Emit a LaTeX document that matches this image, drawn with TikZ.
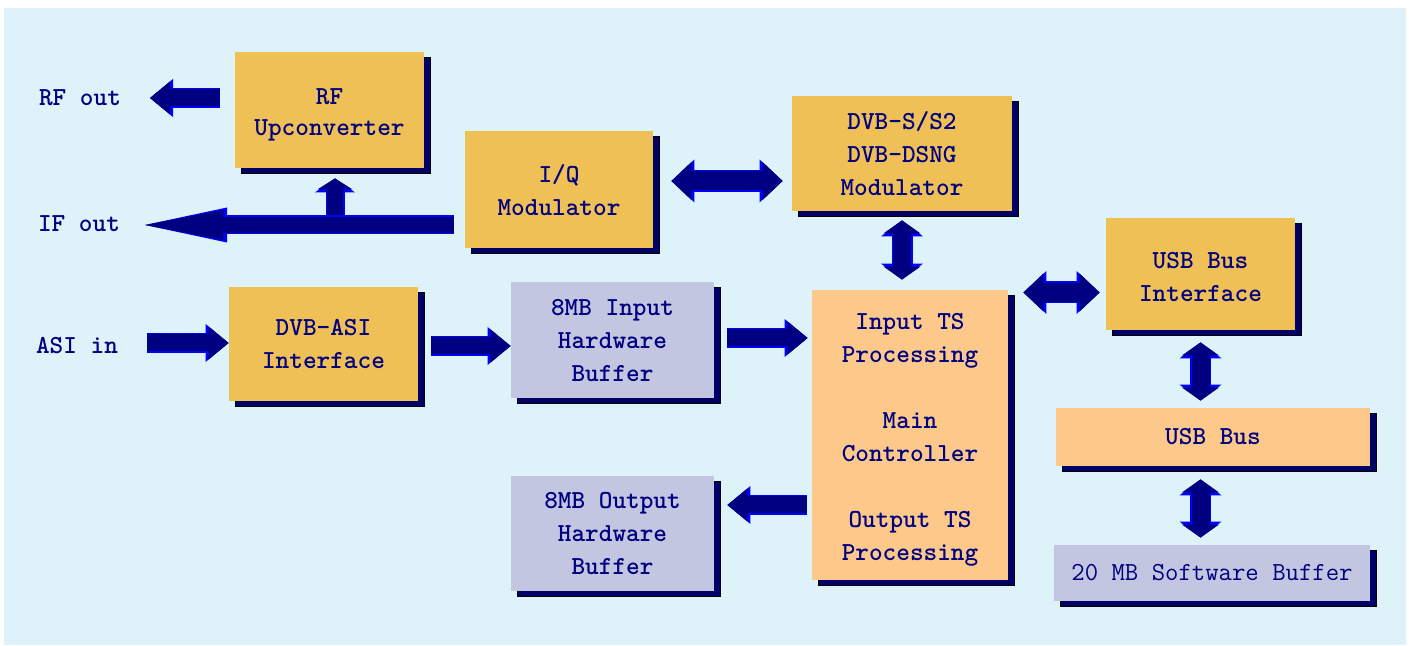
\documentclass[tikz,border=0pt]{standalone}
\usepackage{tikz}
\usetikzlibrary{arrows.meta,shadows}

\definecolor{pagebg}{HTML}{DDF3F9}
\definecolor{gold}{HTML}{EFC055}
\definecolor{peach}{HTML}{FDC98A}
\definecolor{lilac}{HTML}{C2C6E0}
\definecolor{navy}{HTML}{000080}
\definecolor{rim}{HTML}{0000FF}
\definecolor{shade}{HTML}{000066}

\tikzset{
  blk/.style={fill=gold, text=navy, align=center, inner sep=0pt,
    font=\ttfamily\bfseries\fontsize{13}{16.5}\selectfont,
    general shadow={fill=shade, draw=black, line width=.3pt, shadow xshift=3pt, shadow yshift=-2.5pt}},
  lbl/.style={text=navy, font=\ttfamily\bfseries\fontsize{13}{16.5}\selectfont},
  hd/.tip={Triangle[length=10pt,width=16.5pt,line width=0pt]},
  hdo/.tip={Triangle[length=11.5pt,width=19pt,line width=0pt]},
  dd/.tip={Triangle[length=10pt,width=19pt,line width=0pt]},
  ddo/.tip={Triangle[length=11.5pt,width=21.5pt,line width=0pt]},
  vd/.tip={Triangle[length=6.5pt,width=18.5pt,line width=0pt]},
  vdo/.tip={Triangle[length=8pt,width=21pt,line width=0pt]},
  onearrow/.style={draw=navy, line width=8.5pt, -hd,
    preaction={draw=rim, line width=10pt, -hdo}},
  twoarrow/.style={draw=navy, line width=9.5pt, dd-dd,
    preaction={draw=rim, line width=11pt, ddo-ddo}},
  vtwoarrow/.style={draw=navy, line width=9pt, vd-vd,
    preaction={draw=rim, line width=10.5pt, vdo-vdo}},
  ifarrow/.style={draw=navy, line width=8pt, -{Triangle[length=39pt,width=15pt,line width=0pt]},
    preaction={draw=rim, line width=9.5pt, -{Triangle[length=41pt,width=17.5pt,line width=0pt]}}},
  uparrow/.style={draw=navy, line width=8pt, -{Triangle[length=5.5pt,width=17.5pt,line width=0pt]},
    preaction={draw=rim, line width=9.5pt, -{Triangle[length=7pt,width=20pt,line width=0pt]}}},
}

\begin{document}
\begin{tikzpicture}[x=0.5pt,y=-0.5pt]
   \fill[white] (0,0) rectangle (1410,646);
   \fill[pagebg] (4,8) rectangle (1406,645);

   % blocks
   \node[blk, minimum width=94.5pt, minimum height=58pt] (rfup) at (329.5,110) {\rule{0pt}{13pt}RF\\[-1pt]Upconverter};
   \node[blk, minimum width=94pt, minimum height=58.5pt] (iq) at (559,189.5) {\rule{0pt}{10pt}I/Q\\Modulator};
   \node[blk, minimum width=110pt, minimum height=57.5pt] (dvbs) at (902,153.5) {DVB-S/S2\\DVB-DSNG\\Modulator};
   \node[blk, minimum width=94.5pt, minimum height=57pt] (asi) at (323.5,344) {DVB-ASI\\Interface};
   \node[blk, fill=lilac, minimum width=101.5pt, minimum height=58pt] (inbuf) at (612.5,340) {8MB Input\\Hardware\\Buffer};
   \node[blk, fill=lilac, minimum width=101.5pt, minimum height=57.5pt] (outbuf) at (612.5,533.5) {8MB Output\\Hardware\\Buffer};
   \node[blk, fill=peach, minimum width=98pt, minimum height=145pt] (main) at (910,435)
      {\rule{0pt}{13pt}Input TS\\Processing\\[16.5pt]Main\\Controller\\[16.5pt]Output TS\\Processing};
   \node[blk, minimum width=94.5pt, minimum height=56pt] (usbif) at (1200.5,274) {\rule{0pt}{11pt}USB Bus\\Interface};
   \node[blk, fill=peach, minimum width=157pt, minimum height=29pt] (usbbus) at (1213,437) {USB Bus};
   \node[blk, fill=lilac, minimum width=158pt, minimum height=28pt,
      font=\ttfamily\fontsize{13}{16.5}\selectfont] (swbuf) at (1212,573) {20 MB Software Buffer};

   % outside labels
   \node[lbl] (rflbl) at (80,98) {RF out};
   \node[lbl] (iflbl) at (79,224) {IF out};
   \node[lbl] (asilbl) at (77,346) {ASI in};

   \coordinate (rfend) at (150,98);
   \coordinate (ifend) at (145,225);
   \coordinate (ifup) at (335,225);
   \coordinate (asiin) at (147,343);
   \coordinate (a1) at ([yshift=-1pt]asi.east);
   \coordinate (a2) at ([yshift=1pt]inbuf.east);
   \coordinate (a3) at ([yshift=14.25pt]outbuf.east);
   \coordinate (a4) at ([yshift=4.25pt]iq.east);
   \coordinate (a5) at ([yshift=-9.25pt]usbif.west);

   % connectors
   \draw[onearrow, shorten <=7.5pt] (rfup.west |- rfend) -- (rfend);
   \draw[uparrow, shorten >=5pt] (ifup) -- (ifup |- rfup.south);
   \draw[ifarrow, shorten <=5.5pt] (iq.west |- ifend) -- (ifend);
   \draw[onearrow] (asiin) -- (asiin -| asi.west);
   \draw[onearrow, shorten <=6.5pt] (a1) -- (a1 -| inbuf.west);
   \draw[onearrow, shorten <=6.5pt, shorten >=2pt] (a2) -- (a2 -| main.west);
   \draw[onearrow, shorten <=2.5pt, shorten >=6.5pt] (a3 -| main.west) -- (a3);
   \draw[twoarrow, shorten <=9pt, shorten >=4.5pt] (a4) -- (a4 -| dvbs.west);
   \draw[vtwoarrow, shorten <=4.5pt, shorten >=5pt] (dvbs.south) -- (dvbs.south |- main.north);
   \draw[twoarrow, shorten <=7.5pt, shorten >=3pt] (a5 -| main.east) -- (a5);
   \draw[vtwoarrow, shorten <=6pt, shorten >=3.5pt] (usbif.south) -- (usbif.south |- usbbus.north);
   \draw[vtwoarrow, shorten <=6.5pt, shorten >=3.5pt] (usbbus.south -| usbif.south) -- (swbuf.north -| usbif.south);
\end{tikzpicture}
\end{document}
